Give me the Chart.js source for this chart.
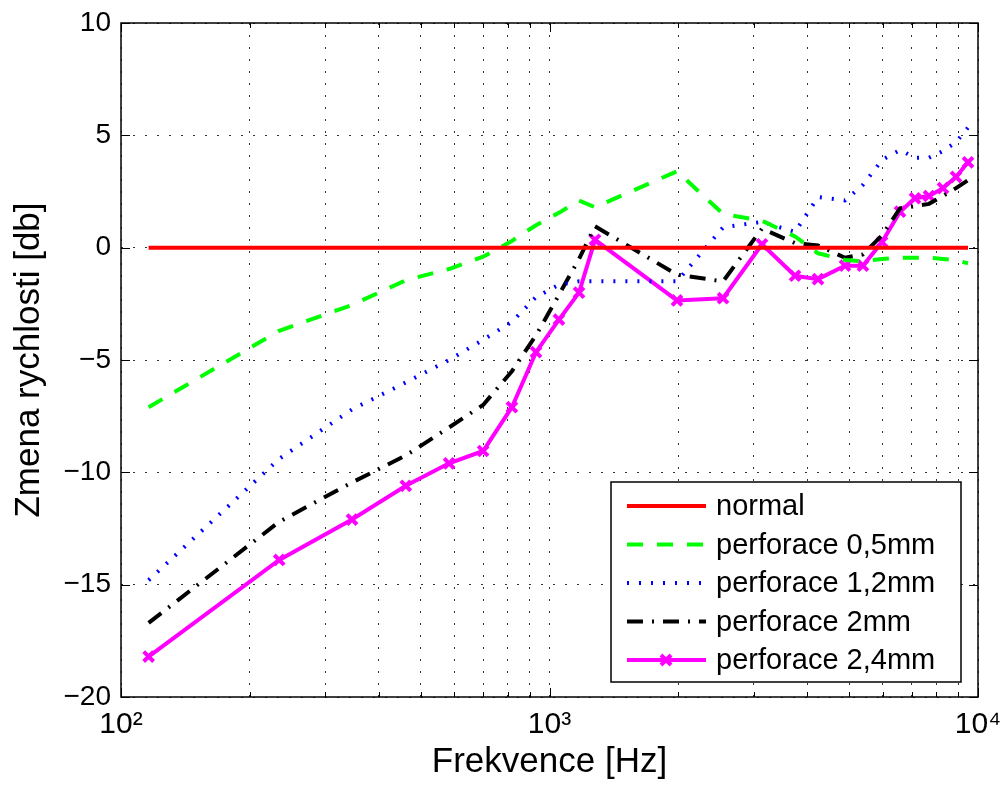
<!DOCTYPE html>
<html lang="cs">
<head>
<meta charset="UTF-8">
<title>Zmena rychlosti</title>
<style>
  html, body { margin: 0; padding: 0; background: #fff; }
  #chart { display: block; }
</style>
</head>
<body>
<canvas id="chart" width="1004" height="789"></canvas>
<script src="https://cdn.jsdelivr.net/npm/chart.js@4.4.1/dist/chart.umd.min.js"></script>
<script>
  // measured frequencies [Hz]
  const FREQ_HZ = [116, 234, 346, 462, 583, 700, 817, 930, 1052, 1172, 1277, 1984, 2541,
                   3133, 3741, 4233, 4894, 5389, 5970, 6577, 7128, 7684, 8285, 8886, 9478];

  // change of velocity [db]
  const NORMAL  = [0, 0, 0, 0, 0, 0, 0, 0, 0, 0, 0, 0, 0, 0, 0, 0, 0, 0, 0, 0, 0, 0, 0, 0, 0];
  const PERF_05 = [-7.1, -3.7, -2.55, -1.45, -0.95, -0.4, 0.3, 1.0, 1.55, 2.1, 1.8, 3.4, 1.5,
                   1.2, 0.5, -0.25, -0.55, -0.6, -0.5, -0.45, -0.45, -0.45, -0.5, -0.55, -0.7];
  const PERF_12 = [-14.8, -9.4, -7.2, -6.0, -5.0, -4.1, -3.3, -2.2, -1.65, -1.5, -1.5, -1.5, 0.9,
                   1.15, 0.7, 2.25, 2.1, 2.8, 3.9, 4.35, 4.0, 4.0, 4.3, 4.7, 5.35];
  const PERF_2  = [-16.7, -12.2, -10.45, -9.25, -8.0, -7.0, -5.5, -3.9, -2.1, -0.5, 0.95, -1.2, -1.5,
                   0.85, 0.2, 0.1, -0.45, -0.3, 0.55, 1.75, 1.85, 1.95, 2.3, 2.65, 3.0];
  const PERF_24 = [-18.2, -13.9, -12.1, -10.6, -9.6, -9.05, -7.1, -4.65, -3.2, -2.0, 0.35, -2.35, -2.25,
                   0.15, -1.25, -1.4, -0.8, -0.8, 0.25, 1.6, 2.2, 2.3, 2.65, 3.15, 3.8];

  const SERIES_LABELS = ['normal', 'perforace 0,5mm', 'perforace 1,2mm', 'perforace 2mm', 'perforace 2,4mm'];

  const X_TICKS = [100, 200, 300, 400, 500, 600, 700, 800, 900,
                   1000, 2000, 3000, 4000, 5000, 6000, 7000, 8000, 9000, 10000];
  const Y_TICKS = [-20, -15, -10, -5, 0, 5, 10];

  const FONT = 'Liberation Sans, Arial, sans-serif';
  const SUP = { '2': '\u00b2', '3': '\u00b3', '4': '\u2074' };

  function pts(ys) {
    return ys.map((y, i) => ({ x: FREQ_HZ[i], y }));
  }

  const datasets = [
    { label: SERIES_LABELS[0], data: pts(NORMAL), borderColor: '#ff0000', borderWidth: 4, pointRadius: 0 },
    { label: SERIES_LABELS[1], data: pts(PERF_05), borderColor: '#00ff00', borderWidth: 4, borderDash: [16, 14], pointRadius: 0 },
    { label: SERIES_LABELS[2], data: pts(PERF_12), borderColor: '#0000ff', borderWidth: 4, borderDash: [2, 10], pointRadius: 0 },
    { label: SERIES_LABELS[3], data: pts(PERF_2), borderColor: '#000000', borderWidth: 4, borderDash: [16, 9, 2, 9], pointRadius: 0 },
    { label: SERIES_LABELS[4], data: pts(PERF_24), borderColor: '#ff00ff', borderWidth: 4,
      pointStyle: 'crossRot', pointRadius: 7, pointBorderWidth: 4, pointBorderColor: '#ff00ff', pointHoverRadius: 7 }
  ];
  datasets.forEach(d => { d.tension = 0; d.fill = false; d.borderCapStyle = 'butt'; d.borderJoinStyle = 'miter'; });

  // axes box, inward ticks and legend, MATLAB style
  const matlabFrame = {
    id: 'matlabFrame',
    afterDatasetsDraw(chart) {
      const { ctx, chartArea: a, scales } = chart;
      ctx.save();
      ctx.strokeStyle = '#000';
      ctx.lineWidth = 1.5;
      ctx.setLineDash([]);
      ctx.strokeRect(a.left, a.top, a.right - a.left, a.bottom - a.top);
      ctx.lineWidth = 1;
      for (const v of Y_TICKS) {
        const y = Math.round(scales.y.getPixelForValue(v)) + 0.5;
        ctx.beginPath();
        ctx.moveTo(a.left, y); ctx.lineTo(a.left + 9, y);
        ctx.moveTo(a.right, y); ctx.lineTo(a.right - 9, y);
        ctx.stroke();
      }
      for (const v of X_TICKS) {
        const x = Math.round(scales.x.getPixelForValue(v)) + 0.5;
        const len = Number.isInteger(Math.log10(v)) ? 9 : 5;
        ctx.beginPath();
        ctx.moveTo(x, a.bottom); ctx.lineTo(x, a.bottom - len);
        ctx.moveTo(x, a.top); ctx.lineTo(x, a.top + len);
        ctx.stroke();
      }

      // legend
      const bx = 611, by = 482, bw = 350, bh = 200;
      ctx.fillStyle = '#fff';
      ctx.fillRect(bx, by, bw, bh);
      ctx.lineWidth = 1.5;
      ctx.strokeRect(bx, by, bw, bh);
      ctx.font = '29px ' + FONT;
      ctx.textBaseline = 'middle';
      chart.data.datasets.forEach((d, i) => {
        const y = 506 + i * 38.5;
        ctx.save();
        ctx.strokeStyle = d.borderColor;
        ctx.lineWidth = d.borderWidth;
        ctx.lineCap = 'butt';
        ctx.setLineDash(d.borderDash || []);
        ctx.beginPath();
        ctx.moveTo(627, y); ctx.lineTo(706, y);
        ctx.stroke();
        if (d.pointStyle) {
          ctx.setLineDash([]);
          ctx.lineWidth = d.pointBorderWidth;
          const r = 5, cx = 666;
          ctx.beginPath();
          ctx.moveTo(cx - r, y - r); ctx.lineTo(cx + r, y + r);
          ctx.moveTo(cx - r, y + r); ctx.lineTo(cx + r, y - r);
          ctx.stroke();
        }
        ctx.restore();
        ctx.fillStyle = '#000';
        ctx.fillText(d.label, 716, y + 1);
      });
      ctx.restore();
    }
  };

  new Chart(document.getElementById('chart'), {
    type: 'line',
    data: { datasets },
    plugins: [matlabFrame],
    options: {
      responsive: false,
      animation: false,
      events: [],
      layout: { padding: { left: 0, right: 26, top: 23, bottom: 0 } },
      plugins: { legend: { display: false }, tooltip: { enabled: false } },
      scales: {
        x: {
          type: 'logarithmic',
          min: 100,
          max: 10000,
          afterBuildTicks: (s) => { s.ticks = X_TICKS.map(v => ({ value: v })); },
          afterFit: (s) => { s.height = 92; s.paddingLeft = 0; s.paddingRight = 0; },
          grid: { color: 'rgba(0,0,0,0.8)', lineWidth: 1, drawTicks: false },
          border: { display: false, dash: [2, 10] },
          ticks: {
            color: '#000',
            font: { family: FONT, size: 30 },
            padding: 10,
            maxRotation: 0,
            autoSkip: false,
            callback: (v) => {
              const e = Math.log10(v);
              return Number.isInteger(e) ? '10' + SUP[String(e)] : '';
            }
          },
          title: {
            display: true,
            text: 'Frekvence [Hz]',
            color: '#000',
            font: { family: FONT, size: 35 },
            padding: { top: 0, bottom: 6 }
          }
        },
        y: {
          min: -20,
          max: 10,
          afterBuildTicks: (s) => { s.ticks = Y_TICKS.map(v => ({ value: v })); },
          afterFit: (s) => { s.width = 121; s.paddingTop = 0; s.paddingBottom = 0; },
          grid: { color: 'rgba(0,0,0,0.8)', lineWidth: 1, drawTicks: false },
          border: { display: false, dash: [2, 10] },
          ticks: {
            color: '#000',
            font: { family: FONT, size: 28 },
            padding: 10,
            callback: (v) => String(v).replace('-', '\u2212')
          },
          title: {
            display: true,
            text: 'Zmena rychlosti [db]',
            color: '#000',
            font: { family: FONT, size: 35 },
            padding: { top: 8, bottom: 0 }
          }
        }
      }
    }
  });
</script>
</body>
</html>
